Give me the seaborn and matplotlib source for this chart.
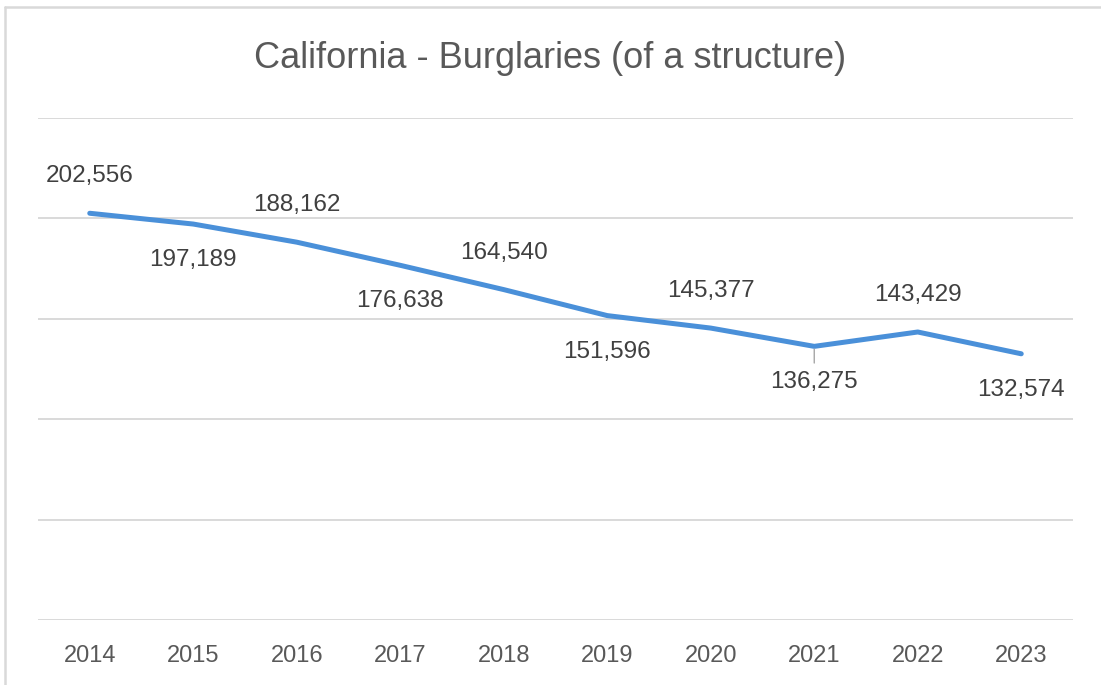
import matplotlib
matplotlib.use("Agg")
import matplotlib.pyplot as plt
import seaborn as sns
import pandas as pd
from matplotlib.lines import Line2D

# data
years = ["2014", "2015", "2016", "2017", "2018", "2019", "2020", "2021", "2022", "2023"]
burglaries = [202556, 197189, 188162, 176638, 164540, 151596, 145377, 136275, 143429, 132574]
label_above = [True, False, True, False, True, False, True, False, True, False]

df = pd.DataFrame({"year": years, "count": burglaries})
df["pos"] = range(len(df))

sns.set_theme(style="white")
plt.rcParams["font.family"] = ["Liberation Sans", "DejaVu Sans"]

fig = plt.figure(figsize=(11.01, 6.85), dpi=100)
ax = fig.add_axes([38 / 1101, 1 - 620 / 685, 1035 / 1101, 502 / 685])

sns.lineplot(data=df, x="pos", y="count", ax=ax, color="#4A90D9", linewidth=3.6,
             solid_capstyle="round", solid_joinstyle="round", zorder=3)

ax.set_xlim(-0.5, len(years) - 0.5)
ax.set_ylim(0, 250000)
ax.set_yticks(range(0, 250001, 50000))
ax.set_yticklabels([])
ax.tick_params(axis="y", length=0)
ax.yaxis.grid(True, color="#d9d9d9", linewidth=1.4)
ax.set_axisbelow(True)

ax.set_xticks(df["pos"])
ax.set_xticklabels(years, fontsize=17, color="#595959")
ax.tick_params(axis="x", length=0, pad=18)
ax.set_xlabel("")
ax.set_ylabel("")
for s in ax.spines.values():
    s.set_visible(False)

for p, v, up in zip(df["pos"], df["count"], label_above):
    off = 37 if up else -36
    ax.annotate(f"{v:,}", (p, v), xytext=(0, off * 0.72), textcoords="offset points",
                ha="center", va="center", fontsize=17.5, color="#404040")

# leader line at 2021 label
i21 = years.index("2021")
ax.annotate("", (i21, burglaries[i21]), xytext=(0, -14), textcoords="offset points",
            arrowprops=dict(arrowstyle="-", color="#a6a6a6", lw=1))

fig.text(0.5, 1 - 58 / 685, "California - Burglaries (of a structure)", ha="center", va="center",
         fontsize=26, color="#595959")

# chart frame: only top and left edges visible
fig.lines.append(Line2D([5 / 1101, 1], [1 - 6.5 / 685, 1 - 6.5 / 685], transform=fig.transFigure,
                        color="#d9d9d9", linewidth=1.8))
fig.lines.append(Line2D([5 / 1101, 5 / 1101], [0, 1 - 6.5 / 685], transform=fig.transFigure,
                        color="#d9d9d9", linewidth=1.8))

fig.savefig("out.png", dpi=100)
